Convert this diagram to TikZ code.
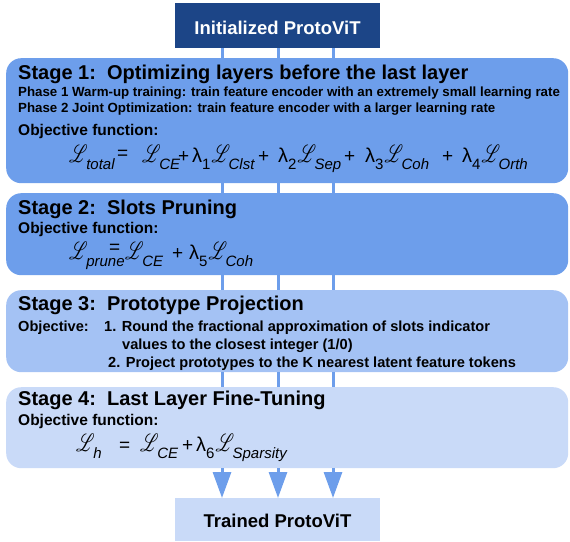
\documentclass[tikz,border=0pt]{standalone}
\usepackage{fontspec}
\setmainfont{Liberation Sans}
\usepackage{mathrsfs}
\usetikzlibrary{arrows.meta}
\definecolor{darkbl}{HTML}{1C4587}
\definecolor{midbl}{HTML}{6D9EEB}
\definecolor{s3bl}{HTML}{A4C2F4}
\definecolor{ltbl}{HTML}{C9DAF8}
\newcommand\sbs[1]{\raisebox{-7pt}{\fontsize{15}{15}\selectfont\itshape #1}}
\newcommand\nsb[1]{\raisebox{-7pt}{\fontsize{15}{15}\selectfont #1}}
\newcommand\Lg{\raisebox{0pt}[15pt][1pt]{\scalebox{0.7}[1]{\fontsize{27}{27}\selectfont$\mathscr{L}$}}}
\newcommand\Lx[1]{\Lg\hspace{-1.5pt}\sbs{#1}}
\newcommand\lam[1]{{\fontsize{20}{20}\selectfont λ}\nsb{#1}}
\newcommand\eqs{{\fontsize{19}{19}\selectfont =}}
\newcommand\pls{{\fontsize{19}{19}\selectfont +}}
\begin{document}
\begin{tikzpicture}[x=1pt,y=-1pt,
  stagebox/.style={rounded corners=15pt, draw=none, anchor=north west, inner sep=0pt, minimum width=562pt},
  endbox/.style={draw=none, anchor=north west, inner sep=0pt, minimum width=205pt},
  ttl/.style={anchor=base west, inner sep=0pt, font=\bfseries\fontsize{20}{20}\selectfont},
  phs/.style={anchor=base west, inner sep=0pt, font=\bfseries\fontsize{13.3}{14}\selectfont},
  obj/.style={anchor=base west, inner sep=0pt, font=\bfseries\fontsize{15.5}{16}\selectfont},
  itm/.style={anchor=base west, inner sep=0pt, font=\bfseries\fontsize{14.6}{15}\selectfont},
  fml/.style={anchor=base west, inner sep=0pt},
  lbl/.style={anchor=base, inner sep=0pt, font=\bfseries\fontsize{18.5}{19}\selectfont},
  conn/.style={draw=midbl, line width=3pt},
  arr/.style={draw=midbl, line width=3pt, -{Triangle[width=18pt,length=26pt]}, midbl}
]
\useasboundingbox (0,0) rectangle (570,541);
% boxes
\node[endbox, fill=darkbl, minimum height=45pt] (init) at (175,3) {};
\node[stagebox, fill=midbl, minimum height=125pt] (s1) at (6,58) {};
\node[stagebox, fill=midbl, minimum height=82pt] (s2) at (6,193) {};
\node[stagebox, fill=s3bl, minimum height=82pt] (s3) at (6,290) {};
\node[stagebox, fill=ltbl, minimum height=81pt] (s4) at (6,387) {};
\node[endbox, fill=ltbl, minimum height=43pt] (done) at (175,498) {};
% connector columns
\coordinate (ca) at (222,0);
\coordinate (cb) at (278,0);
\coordinate (cc) at (333,0);
\foreach \c in {ca,cb,cc}{
  \draw[conn] (init.south -| \c) -- (s1.north -| \c);
  \draw[conn] (s1.south -| \c) -- (s2.north -| \c);
  \draw[conn] (s2.south -| \c) -- (s3.north -| \c);
  \draw[conn] (s3.south -| \c) -- (s4.north -| \c);
  \draw[arr] (s4.south -| \c) -- (done.north -| \c);
}
% labels
\node[lbl, text=white] (initt) at (277.5,34) {Initialized ProtoViT};
\node[lbl] (donet) at (277.5,527) {Trained ProtoViT};
% stage 1
\node[ttl] (t1) at (18,79) {Stage 1:\ \ Optimizing layers before the last layer};
\node[phs] (p1) at (18,96) {Phase 1 Warm-up training: train feature encoder with an extremely small learning rate};
\node[phs] (p2) at (18,112) {Phase 2 Joint Optimization: train feature encoder with a larger learning rate};
\node[obj] (o1) at (18,135) {Objective function:};
\node[fml] (f1a) at (69,162) {\Lx{total}};
\node[fml] (f1b) at (117,159) {\eqs};
\node[fml] (f1c) at (142,162) {\Lx{CE}};
\node[fml] (f1d) at (178,162) {\pls};
\node[fml] (f1e) at (192,162) {\lam{1}\hspace{1pt}\Lx{Clst}};
\node[fml] (f1f) at (258,162) {\pls};
\node[fml] (f1g) at (278,162) {\lam{2}\hspace{1pt}\Lx{Sep}};
\node[fml] (f1h) at (344,162) {\pls};
\node[fml] (f1i) at (365,162) {\lam{3}\hspace{1pt}\Lx{Coh}};
\node[fml] (f1j) at (442,162) {\pls};
\node[fml] (f1k) at (462,162) {\lam{4}\hspace{1pt}\Lx{Orth}};
% stage 2
\node[ttl] (t2) at (18,214) {Stage 2:\ \ Slots Pruning};
\node[obj] (o2) at (18,233) {Objective function:};
\node[fml] (f2a) at (69,259) {\Lx{prune}};
\node[fml] (f2b) at (109,253) {\eqs};
\node[fml] (f2c) at (125,259) {\Lx{CE}};
\node[fml] (f2d) at (172,259) {\pls};
\node[fml] (f2e) at (189,259) {\lam{5}\hspace{1pt}\Lx{Coh}};
% stage 3
\node[ttl] (t3) at (18,310) {Stage 3:\ \ Prototype Projection};
\node[itm] (l1) at (18,331) {Objective:};
\node[itm] (l1b) at (104,331) {1. Round the fractional approximation of slots indicator};
\node[itm] (l2) at (122,349) {values to the closest integer (1/0)};
\node[itm] (l3) at (108,367) {2. Project prototypes to the K nearest latent feature tokens};
% stage 4
\node[ttl] (t4) at (18,405) {Stage 4:\ \ Last Layer Fine-Tuning};
\node[obj] (o4) at (18,425) {Objective function:};
\node[fml] (f4a) at (76,451) {\Lx{h}};
\node[fml] (f4b) at (119,451) {\eqs};
\node[fml] (f4c) at (140,451) {\Lx{CE}};
\node[fml] (f4d) at (182,451) {\pls};
\node[fml] (f4e) at (196,451) {\lam{6}\hspace{1pt}\Lx{Sparsity}};
\end{tikzpicture}
\end{document}
